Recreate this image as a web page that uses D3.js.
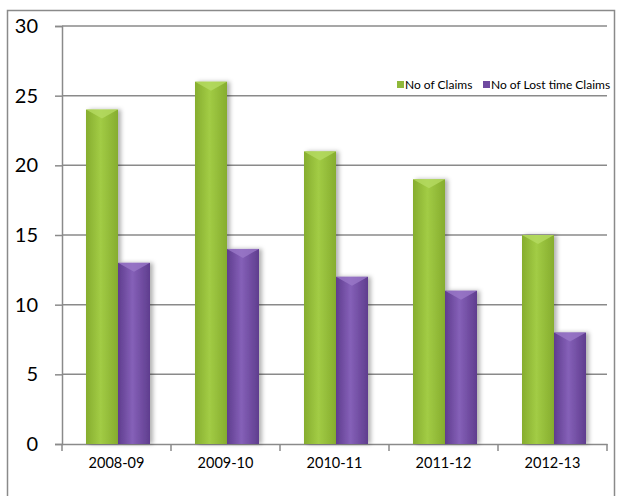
<!DOCTYPE html>
<head>
<meta charset="utf-8">
<script src="https://d3js.org/d3.v7.min.js"></script>
<style>
  *{margin:0;padding:0;}
  body{background:#fff;font-family:Lato,'Open Sans',sans-serif;}
</style>
</head>
<body>
<svg id="chart" width="617" height="496"></svg>
<script>
const years = ["2008-09","2009-10","2010-11","2011-12","2012-13"];
const claims = [24, 26, 21, 19, 15];
const lostTime = [13, 14, 12, 11, 8];
const yTicks = [0, 5, 10, 15, 20, 25, 30];
const seriesNames = ["No of Claims", "No of Lost time Claims"];

const svg = d3.select("#chart");
const W = 617, H = 496;
const m = {left: 62, right: 10, top: 26, bottom: 52};

// outer frame (bottom is cut off in the picture)
svg.append("rect")
  .attr("x", 7.5).attr("y", 10.5)
  .attr("width", 607).attr("height", 500)
  .attr("fill", "none").attr("stroke", "#8a8a8a").attr("stroke-width", 1.5);

const x = d3.scaleBand().domain(years).range([m.left, W - m.right]);
const x1 = d3.scaleBand().domain([0, 1]).range([0, 64]);
const y = d3.scaleLinear().domain([0, 30]).range([H - m.bottom, m.top]);

const defs = svg.append("defs");
function grad(id, edge, mid) {
  const g = defs.append("linearGradient").attr("id", id)
    .attr("x1", "0%").attr("x2", "100%").attr("y1", "0%").attr("y2", "0%");
  g.append("stop").attr("offset", "0%").attr("stop-color", edge);
  g.append("stop").attr("offset", "45%").attr("stop-color", mid);
  g.append("stop").attr("offset", "100%").attr("stop-color", edge);
}
grad("gGreen", "#86ad2e", "#a2cc45");
grad("gPurple", "#5f3d8e", "#8560b8");
const shadow = defs.append("filter").attr("id", "sh")
  .attr("x", "-20%").attr("y", "-5%").attr("width", "150%").attr("height", "110%");
shadow.append("feDropShadow").attr("dx", 3).attr("dy", 0).attr("stdDeviation", 2)
  .attr("flood-color", "#000").attr("flood-opacity", 0.3);

// gridlines + y ticks
svg.append("g")
  .attr("transform", `translate(${m.left},0)`)
  .call(d3.axisLeft(y).tickValues(yTicks).tickSize(7).tickPadding(17))
  .call(g => g.select(".domain").attr("stroke", "#8a8a8a").attr("stroke-width", 1.5))
  .call(g => g.selectAll(".tick line").attr("stroke", "#8a8a8a").attr("stroke-width", 1.5))
  .call(g => g.selectAll(".tick text").attr("font-size", 20).attr("fill", "#000")
    .attr("font-family", "Lato, 'Open Sans', sans-serif"));

svg.append("g").selectAll("line")
  .data(yTicks.filter(d => d > 0))
  .join("line")
  .attr("x1", m.left).attr("x2", W - m.right)
  .attr("y1", d => y(d)).attr("y2", d => y(d))
  .attr("stroke", "#8a8a8a").attr("stroke-width", 1.5);

// x axis
svg.append("g")
  .attr("transform", `translate(0,${y(0)})`)
  .call(d3.axisBottom(x).tickSize(0).tickPadding(14))
  .call(g => g.select(".domain").attr("stroke", "#8a8a8a").attr("stroke-width", 1.5))
  .call(g => g.selectAll(".tick text").attr("font-size", 14.5).attr("fill", "#000")
    .attr("font-family", "Lato, 'Open Sans', sans-serif"));
svg.append("g").selectAll("line")
  .data(years.map(d => x(d)).concat([x(years[years.length - 1]) + x.bandwidth()]))
  .join("line")
  .attr("x1", d => d).attr("x2", d => d)
  .attr("y1", y(0)).attr("y2", y(0) + 7)
  .attr("stroke", "#8a8a8a").attr("stroke-width", 1.5);

// bars
const data = years.map((yr, i) => ({yr, vals: [claims[i], lostTime[i]]}));
const fills = ["url(#gGreen)", "url(#gPurple)"];
const caps = ["#b5db62", "#9a78c8"];
const off = 24;
const grp = svg.append("g").selectAll("g").data(data).join("g")
  .attr("transform", d => `translate(${x(d.yr) + off},0)`);
grp.selectAll("rect.bar")
  .data(d => d.vals.map((v, k) => ({v, k})))
  .join("rect")
  .attr("class", "bar")
  .attr("x", d => x1(d.k))
  .attr("width", x1.bandwidth())
  .attr("y", d => y(d.v))
  .attr("height", d => y(0) - y(d.v))
  .attr("fill", d => fills[d.k])
  .attr("filter", "url(#sh)");
// bevelled top cap
grp.selectAll("path.cap")
  .data(d => d.vals.map((v, k) => ({v, k})))
  .join("path")
  .attr("class", "cap")
  .attr("d", d => {
    const x0 = x1(d.k), w = x1.bandwidth(), t = y(d.v);
    return `M${x0},${t}L${x0 + w},${t}L${x0 + w / 2},${t + 9}Z`;
  })
  .attr("fill", d => caps[d.k]).attr("opacity", 0.8);

// legend
const leg = svg.append("g").attr("font-family", "Lato, 'Open Sans', sans-serif").attr("font-size", 12);
const legX = [397, 483];
const legCol = ["#8fb83a", "#6f4aa0"];
seriesNames.forEach((n, i) => {
  leg.append("rect").attr("x", legX[i]).attr("y", 81).attr("width", 7).attr("height", 7)
    .attr("fill", legCol[i]);
  leg.append("text").attr("x", legX[i] + 8).attr("y", 89).text(n).attr("fill", "#000");
});
</script>
</body>
</html>
